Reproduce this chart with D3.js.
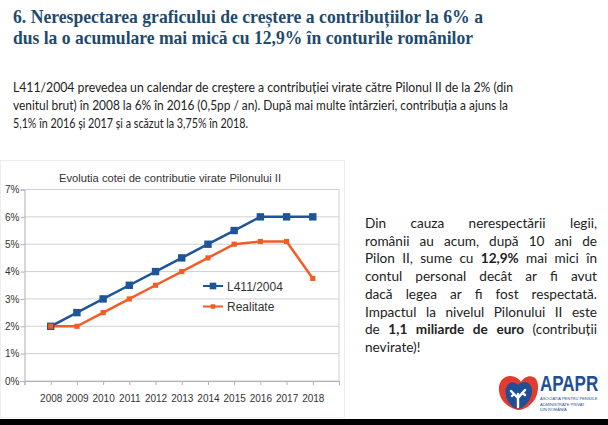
<!DOCTYPE html>
<html>
<head>
<meta charset="utf-8">
<title>Pilonul II</title>
<script src="https://cdn.jsdelivr.net/npm/d3@7/dist/d3.min.js"></script>
<style>
  body { margin: 0; background: #fff; }
  svg { display: block; }
</style>
</head>
<body>
<svg id="root"></svg>
<script>
// data
var years = ["2008", "2009", "2010", "2011", "2012", "2013", "2014", "2015", "2016", "2017", "2018"];
var planned = [2, 2.5, 3, 3.5, 4, 4.5, 5, 5.5, 6, 6, 6];
var actual = [2, 2, 2.5, 3, 3.5, 4, 4.5, 5, 5.1, 5.1, 3.75];
var yTicks = [0, 1, 2, 3, 4, 5, 6, 7];
var seriesNames = ["L411/2004", "Realitate"];

var headingLines = [
  "6. Nerespectarea graficului de creștere a contribuțiilor la 6% a",
  "dus la o acumulare mai mică cu 12,9% în conturile românilor"
];
var introLines = [
  "L411/2004 prevedea un calendar de creștere a contribuției virate către Pilonul II de la 2% (din",
  "venitul brut) în 2008 la 6% în 2016 (0,5pp / an). După mai multe întârzieri, contribuția a ajuns la",
  "5,1% în 2016 și 2017 și a scăzut la 3,75% în 2018."
];
// each side note line: list of [text, bold]
var noteLines = [
  [["Din cauza nerespectării legii,", false]],
  [["românii au acum, după 10 ani de", false]],
  [["Pilon II, sume cu ", false], ["12,9%", true], [" mai mici în", false]],
  [["contul personal decât ar fi avut", false]],
  [["dacă legea ar fi fost respectată.", false]],
  [["Impactul la nivelul Pilonului II este", false]],
  [["de ", false], ["1,1 miliarde de euro", true], [" (contribuții", false]],
  [["nevirate)!", false]]
];
var logoSub = ["ASOCIATIA PENTRU PENSIILE", "ADMINISTRATE PRIVAT", "DIN ROMÂNIA"];

var W = 608, H = 425;
var blue = "#1d5597", orange = "#f25c27";

var svg = d3.select("#root").attr("width", W).attr("height", H);

svg.append("rect").attr("width", W).attr("height", H).attr("fill", "#fff");

// heading
var headWidths = [470, 460];
svg.selectAll(".head")
  .data(headingLines)
  .enter()
  .append("text")
  .attr("class", "head")
  .attr("x", 13)
  .attr("y", function(d, i) { return 23 + i * 20.5; })
  .attr("textLength", function(d, i) { return headWidths[i]; })
  .attr("lengthAdjust", "spacingAndGlyphs")
  .attr("font-family", "Liberation Serif")
  .attr("font-weight", "bold")
  .attr("font-size", 19.5)
  .attr("fill", "#1e4a6d")
  .text(function(d) { return d; });

// intro paragraph
var introWidths = [500, 495, 235];
svg.selectAll(".intro")
  .data(introLines)
  .enter()
  .append("text")
  .attr("class", "intro")
  .attr("x", 13)
  .attr("y", function(d, i) { return 92 + i * 18; })
  .attr("textLength", function(d, i) { return introWidths[i]; })
  .attr("lengthAdjust", "spacingAndGlyphs")
  .attr("font-family", "Lato")
  .attr("font-size", 13.5)
  .attr("fill", "#222")
  .text(function(d) { return d; });

// chart frame (screenshot of the chart has a faint edge)
svg.append("rect")
  .attr("x", 0.5).attr("y", 160.5)
  .attr("width", 344).attr("height", 257)
  .attr("fill", "#fff")
  .attr("stroke", "#eee");

var plot = { left: 24.5, right: 339, top: 189.5, bottom: 381 };

var x = d3.scaleLinear().domain([0, years.length + 1]).range([plot.left, plot.right]);
var y = d3.scaleLinear().domain([0, 7]).range([plot.bottom, plot.top]);

var g = svg.append("g");

// gridlines
g.selectAll(".grid")
  .data(yTicks)
  .enter()
  .append("line")
  .attr("x1", plot.left).attr("x2", plot.right)
  .attr("y1", function(d) { return y(d); })
  .attr("y2", function(d) { return y(d); })
  .attr("stroke", "#d0d0d0");

// right border
g.append("line")
  .attr("x1", plot.right).attr("x2", plot.right)
  .attr("y1", plot.top).attr("y2", plot.bottom)
  .attr("stroke", "#d0d0d0");

// axes
var yAxis = d3.axisLeft(y)
  .tickValues(yTicks)
  .tickSize(4)
  .tickFormat(function(d) { return d + "%"; });
var yg = g.append("g").attr("transform", "translate(" + plot.left + ",0)").call(yAxis);

var xAxis = d3.axisBottom(x)
  .tickValues(d3.range(0, years.length + 2))
  .tickSize(4)
  .tickFormat(function(d) { return years[d - 1] || ""; });
var xg = g.append("g").attr("transform", "translate(0," + plot.bottom + ")").call(xAxis);

[yg, xg].forEach(function(a) {
  a.select(".domain").attr("stroke", "#b0b0b0");
  a.selectAll(".tick line").attr("stroke", "#b0b0b0");
  a.selectAll("text")
    .attr("font-family", "Liberation Sans")
    .attr("font-size", 10)
    .attr("fill", "#333");
});
yg.selectAll("text").attr("x", -5);
xg.selectAll("text").attr("dy", "1.4em");

// title
g.append("text")
  .attr("x", 170).attr("y", 182)
  .attr("text-anchor", "middle")
  .attr("font-family", "Liberation Sans")
  .attr("font-size", 11.2)
  .attr("fill", "#333")
  .text("Evolutia cotei de contributie virate Pilonului II");

var line = d3.line()
  .x(function(d, i) { return x(i + 1); })
  .y(function(d) { return y(d); });

// planned series
g.append("path")
  .datum(planned)
  .attr("d", line)
  .attr("fill", "none")
  .attr("stroke", blue)
  .attr("stroke-width", 2.5);

// actual series
g.append("path")
  .datum(actual)
  .attr("d", line)
  .attr("fill", "none")
  .attr("stroke", orange)
  .attr("stroke-width", 2.5);

g.selectAll(".sq")
  .data(planned)
  .enter()
  .append("rect")
  .attr("x", function(d, i) { return x(i + 1) - 3.7; })
  .attr("y", function(d) { return y(d) - 3.7; })
  .attr("width", 7.4).attr("height", 7.4)
  .attr("fill", blue);

var diamond = d3.symbol().type(d3.symbolDiamond2).size(34);
g.selectAll(".dm")
  .data(actual)
  .enter()
  .append("path")
  .attr("d", diamond)
  .attr("transform", function(d, i) { return "translate(" + x(i + 1) + "," + y(d) + ") rotate(45)"; })
  .attr("fill", orange);

// legend
var legend = g.selectAll(".leg")
  .data(seriesNames)
  .enter()
  .append("g")
  .attr("transform", function(d, i) { return "translate(203," + (286 + i * 20.5) + ")"; });

legend.append("line")
  .attr("x1", 0).attr("x2", 20)
  .attr("stroke", function(d, i) { return i ? orange : blue; })
  .attr("stroke-width", 2);
legend.append("path")
  .attr("d", function(d, i) {
    return i ? d3.symbol().type(d3.symbolDiamond2).size(26)() : d3.symbol().type(d3.symbolSquare).size(44)();
  })
  .attr("transform", function(d, i) { return "translate(10,0)" + (i ? " rotate(45)" : ""); })
  .attr("fill", function(d, i) { return i ? orange : blue; });
legend.append("text")
  .attr("x", 24).attr("y", 4.5)
  .attr("font-family", "Liberation Sans")
  .attr("font-size", 12)
  .attr("fill", "#333")
  .text(function(d) { return d; });

// side note, justified word by word
var noteX = 365, noteW = 232, noteY0 = 228, noteStep = 17.7;
var note = svg.append("g")
  .attr("font-family", "Lato")
  .attr("font-size", 13.6)
  .attr("fill", "#222");

noteLines.forEach(function(segs, li) {
  var words = [];
  segs.forEach(function(s) {
    s[0].split(" ").forEach(function(w) {
      if (w === "") return;
      words.push({ t: w, b: s[1] });
    });
  });
  var nodes = words.map(function(w) {
    return note.append("text")
      .attr("y", noteY0 + li * noteStep)
      .attr("font-weight", w.b ? "bold" : "normal")
      .text(w.t);
  });
  var widths = nodes.map(function(n) { return n.node().getComputedTextLength(); });
  var total = d3.sum(widths);
  var last = li === noteLines.length - 1;
  var gap = (last || words.length < 2) ? 3.6 : (noteW - total) / (words.length - 1);
  var cx = noteX;
  nodes.forEach(function(n, k) {
    n.attr("x", cx);
    cx += widths[k] + gap;
  });
});

// APAPR logo
var logo = svg.append("g").attr("transform", "translate(498,374)");
logo.append("path")
  .attr("d", "M20,36 C6,33 0,22 1,13 C2,4 10,0 17,3 C20,4 22,6 23,8 C26,2 34,0 38,5 C42,11 40,24 33,30 C29,34 24,36 20,36 Z")
  .attr("fill", "#e23b2f");
logo.append("path")
  .attr("d", "M8,14 C10,8 16,7 20,11 C23,7 30,7 33,12 C36,19 32,28 25,33 C22,35 18,35 15,33 C9,28 6,20 8,14 Z")
  .attr("fill", "#1f4f97");
logo.append("path")
  .attr("d", "M20,33 L20,20 M20,24 L13,17 M20,24 L27,16 M16,20 L14,22 M24,19 L27,21")
  .attr("stroke", "#fff")
  .attr("stroke-width", 2.4)
  .attr("stroke-linecap", "round")
  .attr("fill", "none");

svg.append("text")
  .attr("transform", "translate(540,391) scale(1,1.25)")
  .attr("font-family", "Liberation Sans")
  .attr("font-weight", "bold")
  .attr("font-size", 17)
  .attr("fill", "#1f4f97")
  .text("APAPR");

svg.selectAll(".logoSub")
  .data(logoSub)
  .enter()
  .append("text")
  .attr("x", 540)
  .attr("y", function(d, i) { return 400 + i * 5.5; })
  .attr("font-family", "Liberation Sans")
  .attr("font-size", 4)
  .attr("fill", "#1f4f97")
  .text(function(d) { return d; });

// dark strip at the bottom of the screenshot
svg.append("rect")
  .attr("x", 0).attr("y", 419)
  .attr("width", W).attr("height", H - 419)
  .attr("fill", "#000");
</script>
</body>
</html>
